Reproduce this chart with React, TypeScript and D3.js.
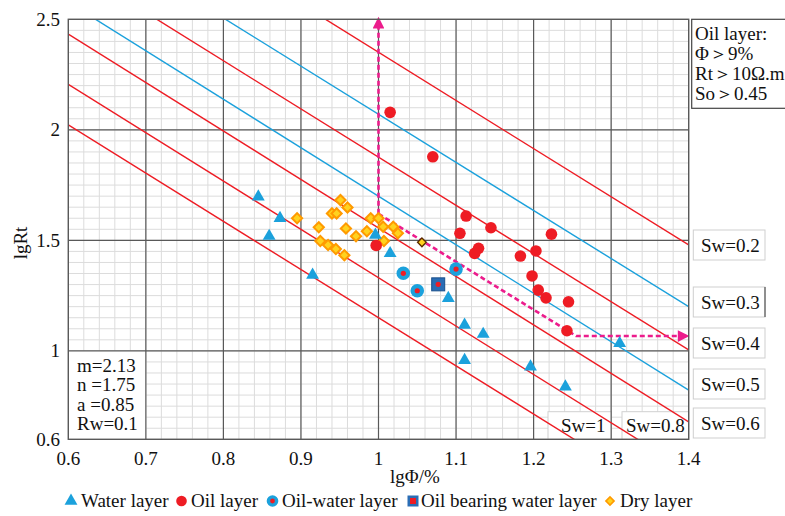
import React from "react";
import * as d3 from "d3";

// lgΦ / lgRt pairs
const waterLayer: [number, number][] = [
  [0.845, 1.697], [0.873, 1.6], [0.859, 1.519], [0.915, 1.343], [0.996, 1.524],
  [1.015, 1.441], [1.09, 1.238], [1.111, 1.117], [1.135, 1.076], [1.111, 0.958],
  [1.196, 0.928], [1.241, 0.838], [1.311, 1.034],
];
const oilLayer: [number, number][] = [
  [1.015, 2.079], [1.07, 1.878], [1.113, 1.61], [1.145, 1.557], [1.105, 1.532],
  [1.223, 1.528], [1.129, 1.464], [1.124, 1.441], [1.183, 1.429], [1.203, 1.452],
  [1.198, 1.339], [1.206, 1.275], [1.216, 1.24], [1.245, 1.222], [1.243, 1.091],
  [0.997, 1.477],
];
const oilWaterLayer: [number, number][] = [[1.032, 1.351], [1.05, 1.272], [1.1, 1.37]];
const oilBearingWater: [number, number][] = [[1.077, 1.301]];
const dryLayer: [number, number][] = [
  [0.895, 1.6], [0.923, 1.559], [0.951, 1.682], [0.96, 1.649], [0.94, 1.622],
  [0.946, 1.622], [0.958, 1.554], [0.971, 1.519], [0.985, 1.541], [0.925, 1.497],
  [0.935, 1.479], [0.945, 1.461], [0.956, 1.433], [0.99, 1.6], [1.0, 1.6],
  [1.006, 1.562], [1.019, 1.562], [1.025, 1.532], [1.007, 1.497],
];
const dryOutlined: [number, number][] = [[1.056, 1.491]];

// Sw lines: lgRt at lgΦ = 0.6 and at lgΦ = 1.4
const swValues = ["0.2", "0.3", "0.4", "0.5", "0.6", "0.8", "1"];
const swAtLeft = [3.223, 2.941, 2.749, 2.577, 2.433, 2.206, 2.022];
const swAtRight = [1.479, 1.2, 1.004, 0.822, 0.679, 0.456, 0.278];
const blueSw = ["0.3", "0.5"];

// dashed cutoff arrows
const arrowUp: [number, number][] = [[1.0, 1.62], [1.0, 2.49]];
const arrowRight: [number, number][] = [[1.0, 1.62], [1.255, 1.067], [1.395, 1.067]];

const xTicks = [0.6, 0.7, 0.8, 0.9, 1.0, 1.1, 1.2, 1.3, 1.4];
const yTicks = [0.6, 1.0, 1.5, 2.0, 2.5];
const oilCriteria = ["Oil layer:", "Φ＞9%", "Rt＞10Ω.m", "So＞0.45"];
const archieParams = ["m=2.13", "n =1.75", "a =0.85", "Rw=0.1"];
const rightLabels = ["0.2", "0.3", "0.4", "0.5", "0.6"];

const FONT = "'Liberation Serif', 'Times New Roman', serif";
const RED = "#ee1c24";
const BLUE = "#1ba1dc";
const PINK = "#ec1c8c";

export default function App() {
  const x = d3.scaleLinear().domain([0.6, 1.4]).range([68.3, 688.7]);
  const y = d3.scaleLinear().domain([0.6, 2.5]).range([439.3, 19.3]);
  const [x0, x1] = x.range();
  const [yb, yt] = y.range();

  const minorX = d3.range(0.6, 1.4001, 0.02);
  const minorY = d3.range(0.6, 2.5001, 0.05);
  const majorX = d3.range(0.7, 1.35, 0.1);
  const majorY = [1.0, 1.5, 2.0];

  const line = d3.line<[number, number]>().x((d) => x(d[0])).y((d) => y(d[1]));
  const tri = d3.symbol(d3.symbolTriangle, 72)()!;
  const diamond = d3.symbol(d3.symbolSquare, 52)()!;

  const rightTops = [230, 287, 328, 369, 408];

  return (
    <svg width={785} height={516} style={{ position: "absolute", left: 0, top: 0, background: "#fff" }}
      fontFamily={FONT}>
      <defs>
        <clipPath id="plot">
          <rect x={x0} y={yt} width={x1 - x0} height={yb - yt} />
        </clipPath>
        <marker id="head" viewBox="0 0 10 10" refX={6} refY={5} markerWidth={5} markerHeight={4.5}
          orient="auto" markerUnits="strokeWidth">
          <path d="M0,0 L10,5 L0,10 Z" fill={PINK} />
        </marker>
      </defs>
      <rect x={0} y={0} width={785} height={516} fill="#fff" />

      {/* minor grid */}
      {minorX.map((v, i) => (
        <line key={"mx" + i} x1={x(v)} x2={x(v)} y1={yt} y2={yb} stroke="#dcdcdc" strokeWidth={1} />
      ))}
      {minorY.map((v, i) => (
        <line key={"my" + i} x1={x0} x2={x1} y1={y(v)} y2={y(v)} stroke="#dcdcdc" strokeWidth={1} />
      ))}

      {/* parameter box (covers minor grid) */}
      <rect x={x0} y={y(1.0)} width={x(0.7) - x0} height={yb - y(1.0)} fill="#fff" />
      {/* Sw=1 / Sw=0.8 boxes */}
      <rect x={548} y={411.7} width={63.5} height={yb - 411.7} fill="#fff" stroke="#d0d0d0" />
      <rect x={622} y={411.7} width={x1 - 622} height={yb - 411.7} fill="#fff" stroke="#d0d0d0" />

      {/* major grid */}
      {majorX.map((v, i) => (
        <line key={"Mx" + i} x1={x(v)} x2={x(v)} y1={yt} y2={yb} stroke="#595959" strokeWidth={1.2} />
      ))}
      {majorY.map((v, i) => (
        <line key={"My" + i} x1={x0} x2={x1} y1={y(v)} y2={y(v)} stroke="#595959" strokeWidth={1.2} />
      ))}

      {archieParams.map((t, i) => (
        <text key={"ap" + i} x={77} y={371.5 + i * 19.5} fontSize={19} fill="#111">{t}</text>
      ))}
      <text x={561} y={432} fontSize={19} fill="#111">Sw=1</text>
      <text x={626} y={432} fontSize={19} fill="#111">Sw=0.8</text>

      {/* Sw lines */}
      <g clipPath="url(#plot)">
        {swValues.map((s, i) => (
          <line key={"sw" + s} x1={x(0.6)} y1={y(swAtLeft[i])} x2={x(1.4)} y2={y(swAtRight[i])}
            stroke={blueSw.includes(s) ? BLUE : RED} strokeWidth={1.4} />
        ))}
      </g>

      {/* dashed arrows */}
      <path d={line(arrowUp)!} fill="none" stroke={PINK} strokeWidth={2.6} strokeDasharray="5,3"
        markerEnd="url(#head)" />
      <path d={line(arrowRight)!} fill="none" stroke={PINK} strokeWidth={2.6} strokeDasharray="5,3"
        markerEnd="url(#head)" />

      {/* points */}
      {dryLayer.map((d, i) => (
        <path key={"dry" + i} d={diamond} transform={`translate(${x(d[0])},${y(d[1])}) rotate(45)`}
          fill="#ffd21f" stroke="#ff9a00" strokeWidth={2} />
      ))}
      {dryOutlined.map((d, i) => (
        <path key={"dryo" + i} d={diamond} transform={`translate(${x(d[0])},${y(d[1])}) rotate(45) scale(0.85)`}
          fill="#ffd21f" stroke="#5a2a00" strokeWidth={1.6} />
      ))}
      {waterLayer.map((d, i) => (
        <path key={"w" + i} d={tri} transform={`translate(${x(d[0])},${y(d[1])})`} fill={BLUE} />
      ))}
      {oilLayer.map((d, i) => (
        <circle key={"o" + i} cx={x(d[0])} cy={y(d[1])} r={5.8} fill={RED} />
      ))}
      {oilWaterLayer.map((d, i) => (
        <g key={"ow" + i}>
          <circle cx={x(d[0])} cy={y(d[1])} r={6.8} fill={BLUE} />
          <circle cx={x(d[0])} cy={y(d[1])} r={2.6} fill={RED} />
        </g>
      ))}
      {oilBearingWater.map((d, i) => (
        <g key={"obw" + i}>
          <rect x={x(d[0]) - 6.5} y={y(d[1]) - 6.5} width={13} height={13} fill="#2a6db5" stroke="#1a4f8a" strokeWidth={1} />
          <circle cx={x(d[0])} cy={y(d[1])} r={2.6} fill={RED} />
        </g>
      ))}

      {/* frame */}
      <rect x={x0} y={yt} width={x1 - x0} height={yb - yt} fill="none" stroke="#595959" strokeWidth={1.4} />

      {/* axes */}
      {xTicks.map((v) => (
        <text key={"xt" + v} x={x(v)} y={465} fontSize={19} textAnchor="middle" fill="#111">
          {d3.format("~g")(v)}
        </text>
      ))}
      {yTicks.map((v) => (
        <text key={"yt" + v} x={60} y={y(v) + 6.5} fontSize={19} textAnchor="end" fill="#111">
          {d3.format("~g")(v)}
        </text>
      ))}
      <text x={390} y={483} fontSize={19} fill="#111">lgΦ/%</text>
      <text transform="translate(27,243) rotate(-90)" fontSize={19} textAnchor="middle" fill="#111">lgRt</text>

      {/* oil criteria box */}
      <rect x={691.7} y={yt} width={100} height={89} fill="#fff" stroke="#444" strokeWidth={1.2} />
      {oilCriteria.map((t, i) => (
        <text key={"oc" + i} x={695} y={40 + i * 20} fontSize={19} fill="#111">{t}</text>
      ))}

      {/* right Sw labels */}
      {rightLabels.map((s, i) => (
        <g key={"rl" + s}>
          <rect x={693.3} y={rightTops[i]} width={71.7} height={30} fill="#fff" stroke="#cfcfcf" strokeWidth={1} />
          {s === "0.3" && (
            <line x1={765} x2={765} y1={rightTops[i]} y2={rightTops[i] + 30} stroke="#555" strokeWidth={1.2} />
          )}
          <text x={701} y={rightTops[i] + 21.5} fontSize={19} fill="#111">{"Sw=" + s}</text>
        </g>
      ))}

      {/* legend */}
      <g fontSize={19} fill="#111">
        <path d={tri} transform="translate(71,501)" fill={BLUE} />
        <text x={81} y={507}>Water layer</text>
        <circle cx={181.5} cy={501} r={5.3} fill={RED} />
        <text x={191} y={507}>Oil layer</text>
        <circle cx={272.5} cy={501} r={5.8} fill={BLUE} />
        <circle cx={272.5} cy={501} r={2.4} fill={RED} />
        <text x={282} y={507}>Oil-water layer</text>
        <rect x={407.5} y={495.5} width={11} height={11} fill="#2a6db5" />
        <rect x={410} y={498} width={6} height={6} fill={RED} />
        <text x={421} y={507}>Oil bearing water layer</text>
        <path d={diamond} transform="translate(610,501) rotate(45) scale(0.8)" fill="#ffd21f" stroke="#ff9a00" strokeWidth={2} />
        <text x={620} y={507}>Dry layer</text>
      </g>
    </svg>
  );
}
